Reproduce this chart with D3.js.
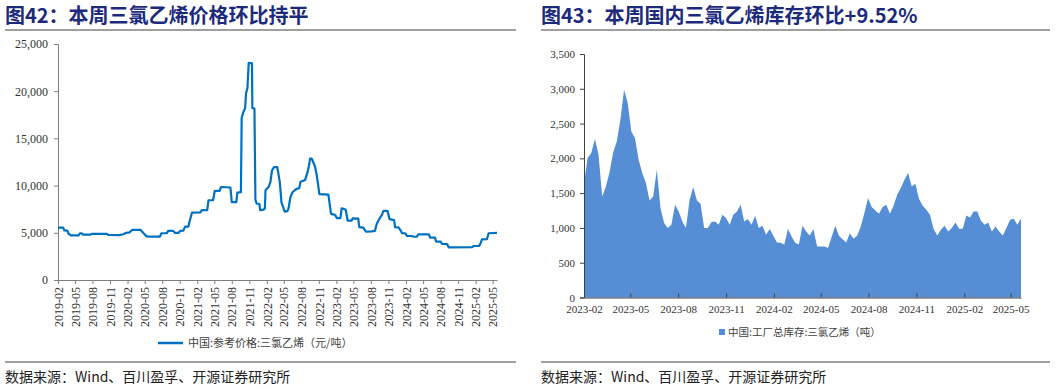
<!DOCTYPE html>
<html>
<head>
<meta charset="utf-8">
<script src="https://cdn.jsdelivr.net/npm/d3@7"></script>
<style>
  body { margin: 0; background: #fff; }
  svg { display: block; }
  .tick text { font-family: "Liberation Serif", "Times New Roman", serif; fill: #333; }
</style>
</head>
<body>
<div id="chart"></div>
<script>
// ---- data: left chart, trichloroethylene reference price (元/吨), [date, value]
const priceDates = [
  "2019-02-01","2019-02-28","2019-03-07","2019-03-22","2019-03-29","2019-04-10","2019-05-20","2019-05-27",
  "2019-06-05","2019-06-12","2019-07-20","2019-07-28","2019-10-15","2019-10-22","2019-12-20","2020-01-10",
  "2020-01-25","2020-02-12","2020-02-25","2020-04-10","2020-04-25","2020-05-10","2020-05-20","2020-07-20",
  "2020-07-28","2020-08-25","2020-09-01","2020-09-28","2020-10-06","2020-10-26","2020-11-03","2020-11-20",
  "2020-11-29","2020-12-16","2020-12-25","2021-01-04","2021-02-16","2021-02-25","2021-03-25","2021-04-01",
  "2021-04-25","2021-05-04","2021-05-30","2021-06-05","2021-07-25","2021-08-01","2021-08-25","2021-08-30",
  "2021-09-18","2021-09-22","2021-10-01","2021-10-10","2021-10-15","2021-10-22","2021-10-29","2021-11-15",
  "2021-11-17","2021-11-28","2021-12-03","2021-12-10","2021-12-24","2021-12-28","2022-01-15","2022-01-22",
  "2022-01-25","2022-02-10","2022-02-20","2022-02-28","2022-03-10","2022-03-28","2022-04-10","2022-04-19",
  "2022-04-28","2022-05-06","2022-05-20","2022-05-26","2022-06-05","2022-06-16","2022-07-03","2022-07-21",
  "2022-07-28","2022-08-21","2022-09-03","2022-09-10","2022-09-16","2022-09-25","2022-10-12","2022-10-21",
  "2022-11-04","2022-12-21","2023-01-04","2023-01-25","2023-02-04","2023-02-22","2023-03-01","2023-03-10",
  "2023-03-22","2023-04-01","2023-04-22","2023-04-27","2023-05-27","2023-06-01","2023-06-22","2023-07-06",
  "2023-08-05","2023-08-22","2023-09-01","2023-09-15","2023-09-28","2023-10-06","2023-10-27","2023-11-07",
  "2023-12-01","2023-12-06","2023-12-24","2024-01-03","2024-01-12","2024-01-29","2024-02-06","2024-03-03",
  "2024-03-12","2024-03-29","2024-04-06","2024-06-01","2024-06-07","2024-07-03","2024-07-08","2024-08-01",
  "2024-08-09","2024-09-04","2024-09-13","2025-01-13","2025-01-22","2025-02-19","2025-02-27","2025-03-06",
  "2025-04-01","2025-04-10","2025-05-24"
];
const priceValues = [
  5550,5550,5250,5230,4900,4720,4720,4950,
  4950,4800,4800,4880,4900,4780,4760,4850,
  5000,5050,5300,5300,4950,4650,4600,4600,
  4950,4950,5200,5200,5000,5000,5200,5230,
  5650,5650,6400,7130,7150,7400,7400,8450,
  8470,9450,9450,9850,9800,8250,8250,9250,
  9300,17200,17800,18200,19800,20300,23000,22950,
  18200,18150,8500,8100,8050,7400,7450,7600,
  9500,9850,10400,11600,11950,11950,10400,8200,
  7700,7250,7300,7600,8800,9300,9600,9750,
  10400,10600,11450,12100,12850,12850,12000,11100,
  9100,9050,7000,6900,6550,6550,7600,7550,
  7450,6300,6300,6530,6500,5600,5550,5120,
  5150,5200,5950,6500,6900,7330,7330,6450,
  6350,5600,5580,5290,4950,4940,4680,4660,
  4580,4580,4840,4840,4480,4480,4070,4060,
  3820,3810,3450,3480,3600,3620,3900,4300,
  4320,4950,5000
];
const priceTicks = [0, 5000, 10000, 15000, 20000, 25000];

// ---- data: right chart, weekly factory inventory (吨), from 2023-02-01
const stockStart = "2023-02-01";
const stockValues = [
  1645,2004,2076,2277,2050,1452,1596,1797,2085,2243,
  2555,2987,2795,2387,2292,1980,1789,1645,1395,1452,
  1836,1286,1070,998,1046,1333,1237,1093,998,1405,
  1588,1395,1347,998,998,1084,1093,1046,1190,1142,
  1046,1190,1237,1333,1093,1127,1046,1175,998,1031,
  902,983,887,791,786,762,983,878,786,762,
  1031,950,892,983,734,734,734,710,868,1031,
  887,839,791,925,844,887,1022,1213,1429,1300,
  1252,1204,1300,1333,1204,1319,1477,1573,1693,1789,
  1597,1636,1415,1319,1261,1189,983,892,973,1031,
  950,998,1079,988,988,1180,1151,1237,1237,1103,
  1046,1079,950,1022,950,892,998,1118,1132,1046,1132
];
const stockTicks = [0, 500, 1000, 1500, 2000, 2500, 3000, 3500];

const titles = ["图42：本周三氯乙烯价格环比持平", "图43：本周国内三氯乙烯库存环比+9.52%"];
const legends = ["中国:参考价格:三氯乙烯（元/吨）", "中国:工厂总库存:三氯乙烯（吨）"];
const source = "数据来源：Wind、百川盈孚、开源证券研究所";

const width = 1057;
const height = 389;
const parse = d3.timeParse("%Y-%m-%d");
const fmtMonth = d3.timeFormat("%Y-%m");
const cjk = '"Noto Sans CJK SC", sans-serif';

const svg = d3.select("#chart").append("svg")
  .attr("width", width)
  .attr("height", height);

// titles, rules and source notes
[[5, 516], [541, 1050]].forEach(([x0, x1], i) => {
  svg.append("text")
    .attr("x", x0)
    .attr("y", 23)
    .attr("font-family", cjk)
    .attr("font-weight", 700)
    .attr("font-size", 20)
    .attr("fill", "#1c2a7c")
    .text(titles[i]);
  svg.append("line")
    .attr("x1", x0).attr("x2", x1)
    .attr("y1", 30).attr("y2", 30)
    .attr("stroke", "#7f7f7f")
    .attr("stroke-width", 1.5);
  svg.append("line")
    .attr("x1", x0).attr("x2", x1)
    .attr("y1", 362).attr("y2", 362)
    .attr("stroke", "#404040")
    .attr("stroke-width", 1);
  svg.append("text")
    .attr("x", x0)
    .attr("y", 382)
    .attr("font-family", cjk)
    .attr("font-size", 14)
    .attr("fill", "#222")
    .text(source);
});

// ---- left chart
const priceData = priceDates.map((d, i) => ({ date: parse(d), value: priceValues[i] }));

const xL = d3.scaleTime()
  .domain([parse("2019-02-01"), parse("2025-05-24")])
  .range([58, 497]);
const yL = d3.scaleLinear()
  .domain([0, 25000])
  .range([280, 44]);

const left = svg.append("g");

left.append("g")
  .attr("transform", "translate(58,0)")
  .call(d3.axisLeft(yL).tickValues(priceTicks).tickFormat(d3.format(",")).tickSize(4).tickPadding(6))
  .call(g => g.selectAll("path, line").attr("stroke", "#7f7f7f"))
  .call(g => g.selectAll("text").attr("font-size", 12));

const monthTicksL = d3.timeMonth.range(parse("2019-02-01"), parse("2025-05-02"), 3);
left.append("g")
  .attr("transform", "translate(0,280)")
  .call(d3.axisBottom(xL).tickValues(monthTicksL).tickFormat(fmtMonth).tickSize(4).tickSizeOuter(0))
  .call(g => g.selectAll("path, line").attr("stroke", "#7f7f7f"))
  .call(g => g.selectAll("text")
    .attr("font-size", 12)
    .attr("transform", "rotate(-90)")
    .attr("x", -7)
    .attr("y", 0)
    .attr("dy", "0.35em")
    .attr("text-anchor", "end"));

left.append("path")
  .datum(priceData)
  .attr("fill", "none")
  .attr("stroke", "#0070c0")
  .attr("stroke-width", 2.2)
  .attr("stroke-linejoin", "round")
  .attr("d", d3.line().x(d => xL(d.date)).y(d => yL(d.value)));

left.append("line")
  .attr("x1", 158).attr("x2", 183)
  .attr("y1", 343).attr("y2", 343)
  .attr("stroke", "#0070c0")
  .attr("stroke-width", 2.5);
left.append("text")
  .attr("x", 188)
  .attr("y", 347)
  .attr("font-family", cjk)
  .attr("font-size", 11)
  .attr("fill", "#404040")
  .text(legends[0]);

// ---- right chart
const t0 = parse(stockStart);
const stockData = stockValues.map((v, i) => ({ date: d3.timeWeek.offset(t0, i), value: v }));

const xR = d3.scaleTime()
  .domain([t0, stockData[stockData.length - 1].date])
  .range([584, 1021]);
const yR = d3.scaleLinear()
  .domain([0, 3500])
  .range([297.5, 54]);

const right = svg.append("g");

right.append("path")
  .datum(stockData)
  .attr("fill", "#558ed5")
  .attr("d", d3.area().x(d => xR(d.date)).y0(yR(0)).y1(d => yR(d.value)));

right.append("g")
  .attr("transform", "translate(584,0)")
  .call(d3.axisLeft(yR).tickValues(stockTicks).tickFormat(d3.format(",")).tickSize(4).tickPadding(5))
  .call(g => g.selectAll("path, line").attr("stroke", "#404040"))
  .call(g => g.selectAll("text").attr("font-size", 11));

const monthTicksR = d3.timeMonth.range(parse("2023-02-01"), parse("2025-05-02"), 3);
right.append("g")
  .attr("transform", `translate(0,${yR(0)})`)
  .call(d3.axisBottom(xR).tickValues(monthTicksR).tickFormat(fmtMonth).tickSize(-4).tickSizeOuter(0).tickPadding(8))
  .call(g => g.selectAll("path, line").attr("stroke", "#404040"))
  .call(g => g.selectAll("text").attr("font-size", 11));

right.append("rect")
  .attr("x", 719).attr("y", 329)
  .attr("width", 6).attr("height", 6)
  .attr("fill", "#558ed5");
right.append("text")
  .attr("x", 728)
  .attr("y", 336)
  .attr("font-family", cjk)
  .attr("font-size", 10.5)
  .attr("fill", "#404040")
  .text(legends[1]);
</script>
</body>
</html>
